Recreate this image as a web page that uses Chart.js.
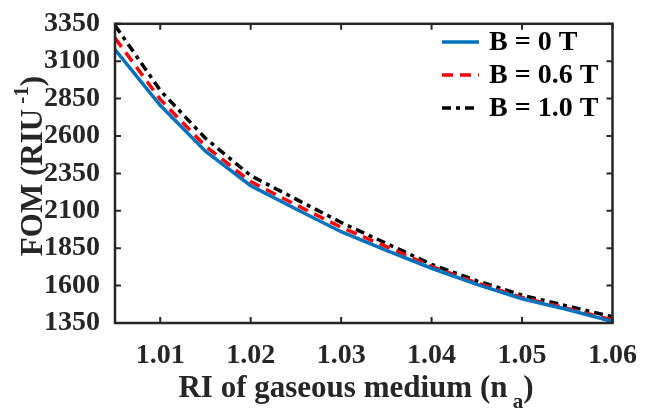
<!DOCTYPE html>
<html>
<head>
<meta charset="utf-8">
<script src="https://cdn.jsdelivr.net/npm/chart.js@4.4.1/dist/chart.umd.min.js"></script>
<style>
  html, body { margin: 0; padding: 0; background: #fff; }
  #wrap { width: 645px; height: 415px; }
</style>
</head>
<body>
<div id="wrap"><canvas id="fomChart" width="645" height="415"></canvas></div>
<script>
// refractive index of the gaseous medium
const riValues = [1.005, 1.01, 1.015, 1.02, 1.025, 1.03, 1.035, 1.04, 1.045, 1.05, 1.055, 1.06];
// FOM (RIU^-1) for each magnetic field
const fomB0 = [3178, 2805, 2498, 2268, 2112, 1960, 1836, 1716, 1608, 1512, 1440, 1360];
const fomB06 = [3255, 2845, 2532, 2295, 2140, 1990, 1860, 1728, 1618, 1520, 1448, 1370];
const fomB10 = [3340, 2905, 2585, 2335, 2178, 2022, 1882, 1742, 1632, 1536, 1464, 1392];
const seriesLabels = ["B = 0 T", "B = 0.6 T", "B = 1.0 T"];
const xTickValues = [1.01, 1.02, 1.03, 1.04, 1.05, 1.06];
const yTickValues = [1350, 1600, 1850, 2100, 2350, 2600, 2850, 3100, 3350];

const SERIF = "'Liberation Serif', 'Times New Roman', serif";
const AXIS_COLOR = "#262626";

function toPoints(ys) {
  return ys.map((y, i) => ({ x: riValues[i], y: y }));
}

// MATLAB-style box, inward ticks, axis titles with sub/superscripts and legend
const matlabFrame = {
  id: "matlabFrame",
  afterDraw(chart) {
    const ctx = chart.ctx;
    const a = chart.chartArea;
    const xs = chart.scales.x, ys = chart.scales.y;
    const tl = 6;
    ctx.save();
    ctx.strokeStyle = AXIS_COLOR;
    ctx.lineWidth = 2.5;
    ctx.strokeRect(a.left, a.top, a.right - a.left, a.bottom - a.top);
    ctx.lineWidth = 2;
    ctx.beginPath();
    xTickValues.forEach(v => {
      const px = xs.getPixelForValue(v);
      ctx.moveTo(px, a.bottom); ctx.lineTo(px, a.bottom - tl);
      ctx.moveTo(px, a.top); ctx.lineTo(px, a.top + tl);
    });
    yTickValues.forEach(v => {
      const py = ys.getPixelForValue(v);
      ctx.moveTo(a.left, py); ctx.lineTo(a.left + tl, py);
      ctx.moveTo(a.right, py); ctx.lineTo(a.right - tl, py);
    });
    ctx.stroke();

    // x title: RI of gaseous medium (n_a)
    ctx.fillStyle = AXIS_COLOR;
    ctx.textBaseline = "alphabetic";
    ctx.textAlign = "left";
    const big = "bold 31px " + SERIF, small = "bold 21px " + SERIF;
    ctx.font = big;
    const p1 = "RI of gaseous medium (n", p3 = ")";
    const w1 = ctx.measureText(p1).width, w3 = ctx.measureText(p3).width;
    ctx.font = small;
    const w2 = ctx.measureText(" a").width;
    let x0 = 356 - (w1 + w2 + w3) / 2;
    const by = 397;
    ctx.font = big; ctx.fillText(p1, x0, by);
    ctx.font = small; ctx.fillText(" a", x0 + w1, by + 11);
    ctx.font = big; ctx.fillText(p3, x0 + w1 + w2, by);

    // y title: FOM (RIU^-1)
    ctx.save();
    ctx.translate(42, 166);
    ctx.rotate(-Math.PI / 2);
    const q1 = "FOM (RIU", q2 = " -1", q3 = ")";
    ctx.font = big;
    const v1 = ctx.measureText(q1).width, v3 = ctx.measureText(q3).width;
    ctx.font = small;
    const v2 = ctx.measureText(q2).width;
    const s0 = -(v1 + v2 + v3) / 2;
    ctx.font = big; ctx.fillText(q1, s0, 0);
    ctx.font = small; ctx.fillText(q2, s0 + v1, -14);
    ctx.font = big; ctx.fillText(q3, s0 + v1 + v2, 0);
    ctx.restore();

    // legend
    ctx.font = "bold 28px " + SERIF;
    ctx.textBaseline = "middle";
    ctx.fillStyle = "#000";
    chart.data.datasets.forEach((ds, i) => {
      const ly = 42 + i * 33;
      ctx.save();
      ctx.strokeStyle = ds.borderColor;
      ctx.lineWidth = ds.borderWidth;
      ctx.setLineDash(ds.borderDash || []);
      ctx.beginPath();
      ctx.moveTo(442, ly); ctx.lineTo(479, ly);
      ctx.stroke();
      ctx.restore();
      ctx.fillText(ds.label, 489, ly + 1);
    });
    ctx.restore();
  }
};

new Chart(document.getElementById("fomChart"), {
  type: "line",
  data: {
    datasets: [
      { label: seriesLabels[0], data: toPoints(fomB0), borderColor: "#0072BD", borderWidth: 3.5, borderDash: [] },
      { label: seriesLabels[1], data: toPoints(fomB06), borderColor: "#FF0000", borderWidth: 3.5, borderDash: [11, 7] },
      { label: seriesLabels[2], data: toPoints(fomB10), borderColor: "#000000", borderWidth: 3.5, borderDash: [9, 5, 4, 5] }
    ]
  },
  options: {
    responsive: false,
    animation: false,
    layout: { padding: { top: 11, right: 26, left: 0, bottom: 0 } },
    elements: { point: { radius: 0 }, line: { tension: 0 } },
    plugins: { legend: { display: false }, tooltip: { enabled: false } },
    scales: {
      x: {
        type: "linear",
        min: 1.005,
        max: 1.06,
        grid: { display: false },
        border: { display: false },
        afterBuildTicks: s => { s.ticks = xTickValues.map(v => ({ value: v })); },
        afterFit: s => { s.height = 92; },
        ticks: {
          padding: 8,
          color: AXIS_COLOR,
          font: { family: SERIF, size: 28, weight: "bold" },
          callback: v => v.toFixed(2)
        }
      },
      y: {
        min: 1350,
        max: 3350,
        grid: { display: false },
        border: { display: false },
        afterBuildTicks: s => { s.ticks = yTickValues.map(v => ({ value: v })); },
        afterFit: s => { s.width = 115; },
        ticks: {
          padding: 7,
          color: AXIS_COLOR,
          font: { family: SERIF, size: 28, weight: "bold" },
          callback: v => String(v)
        }
      }
    }
  },
  plugins: [matlabFrame]
});
</script>
</body>
</html>
